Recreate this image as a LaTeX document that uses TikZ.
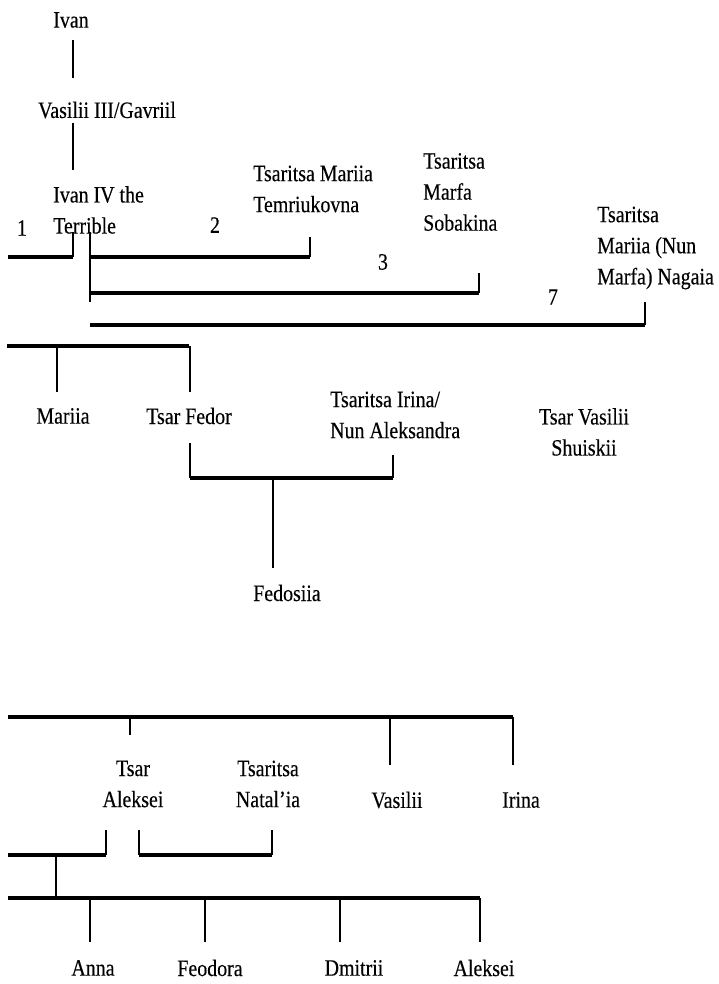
\documentclass[tikz,border=0pt]{standalone}
\usepackage{fontspec}
\setmainfont[FakeStretch=0.85, FakeBold=0.3]{Liberation Serif}
\usepackage{tikz}
\usetikzlibrary{positioning}

\tikzset{
	person/.style={font=\fontsize{20}{26.5}\selectfont, inner sep=0pt},
	bar/.style={line width=3pt},
	stem/.style={line width=1.9pt},
	tick/.style={line width=1.3pt},
}

\begin{document}
\begin{tikzpicture}[x=0.03cm, y=-0.03cm]
	\useasboundingbox (0,0) rectangle (718,984);

	\node[person] (ivan) at (71,20) {Ivan};
	\node[person] (vasilii) at (107,110) {Vasilii III/Gavriil};
	\node[person, anchor=west, align=left] (ivaniv) at (53,210) {Ivan IV the\\Terrible};
	\node[person] (n1) at (22,228) {1};
	\node[person] (n2) at (215,225) {2};
	\node[person] (n3) at (383,262) {3};
	\node[person] (n7) at (553,297) {7};
	\node[person, anchor=west, align=left] (temriukovna) at (253,189) {Tsaritsa Mariia\\Temriukovna};
	\node[person, anchor=west, align=left] (sobakina) at (423,192) {Tsaritsa\\Marfa\\Sobakina};
	\node[person, anchor=west, align=left] (nagaia) at (597,248) {Tsaritsa\\Mariia (Nun\\Marfa) Nagaia};

	\node[person] (mariia) at (63,416) {Mariia};
	\node[person] (fedor) at (189,416) {Tsar Fedor};
	\node[person, anchor=west, align=left] (irina) at (330,415) {Tsaritsa Irina/\\Nun Aleksandra};
	\node[person, align=center] (shuiskii) at (584,432) {Tsar Vasilii\\Shuiskii};
	\node[person] (fedosiia) at (287,593) {Fedosiia};

	\node[person, align=center] (aleksei) at (133,784) {Tsar\\Aleksei};
	\node[person, align=center] (natalia) at (268,784) {Tsaritsa\\Natal’ia};
	\node[person] (vasiliib) at (397,800) {Vasilii};
	\node[person] (irinab) at (521,800) {Irina};
	\node[person] (anna) at (93,968) {Anna};
	\node[person] (feodora) at (210,968) {Feodora};
	\node[person] (dmitrii) at (354,968) {Dmitrii};
	\node[person] (alekseib) at (484,968) {Aleksei};

	\coordinate (ivanbot) at (73,40);
	\coordinate (vasiliitop) at (73,78);
	\coordinate (vasiliibot) at (73,123);
	\coordinate (ivanivtop) at (73,170);
	\coordinate (w1) at (73,232);
	\coordinate (w1left) at (8,257);
	\coordinate (ivanivdown) at (90,232);
	\coordinate (w2) at (310,237);
	\coordinate (w3) at (479,273);
	\coordinate (w7) at (645,302);
	\coordinate (m1left) at (7,346);
	\coordinate (fedorbot) at (190,443);
	\coordinate (irinabot) at (393,455);
	\coordinate (fedosiiatop) at (273,568);
	\coordinate (r1left) at (8,717);
	\coordinate (r1right) at (513,717);
	\coordinate (alekseitop) at (130,735);
	\coordinate (a1) at (106,830);
	\coordinate (a1left) at (8,855);
	\coordinate (a2) at (139,830);
	\coordinate (nataliabot) at (272,830);
	\coordinate (kidsleft) at (8,898);
	\coordinate (kidsright) at (480,898);

	\draw[stem] (ivanbot) -- (vasiliitop);
	\draw[stem] (vasiliibot) -- (ivanivtop);

	\draw[bar] (w1left) -- (w1left -| w1);
	\draw[tick] (w1) -- (w1left -| w1);
	\draw[stem] (ivanivdown) -- (ivanivdown |- w7) ++(0,2);
	\draw[bar] (ivanivdown |- w1left) -- (w2 |- w1left);
	\draw[tick] (w2) -- (w2 |- w1left);
	\draw[bar] (ivanivdown |- 0,293) -- (w3 |- 0,293);
	\draw[tick] (w3) -- (w3 |- 0,293);
	\draw[bar] (ivanivdown |- 0,325) -- (w7 |- 0,325);
	\draw[stem] (w7) -- (w7 |- 0,325);

	\draw[bar] (m1left) -- (m1left -| fedor);
	\draw[stem] (m1left -| mariia.south) ++(-6,0) -- ++(0,46);
	\draw[stem] (m1left -| fedorbot) -- (fedorbot |- 0,392);

	\draw[stem] (fedorbot) -- (fedorbot |- 0,478);
	\draw[bar] (fedorbot |- 0,478) -- (irinabot |- 0,478);
	\draw[tick] (irinabot) -- (irinabot |- 0,478);
	\draw[stem] (fedosiiatop |- 0,478) -- (fedosiiatop);

	\draw[bar] (r1left) -- (r1right);
	\draw[tick] (alekseitop |- r1left) -- (alekseitop);
	\draw[stem] (390,717) -- (390,765);
	\draw[stem] (r1right) -- (r1right |- 0,765);

	\draw[tick] (a1) -- (a1 |- a1left);
	\draw[bar] (a1left) -- (a1 |- a1left);
	\draw[tick] (a2) -- (a2 |- a1left);
	\draw[bar] (a2 |- a1left) -- (nataliabot |- a1left);
	\draw[tick] (nataliabot) -- (nataliabot |- a1left);
	\draw[stem] (56,855) -- (56,898);

	\draw[bar] (kidsleft) -- (kidsright);
	\foreach \x in {90,205,340,480}
		\draw[stem] (\x,898) -- (\x,942);
\end{tikzpicture}
\end{document}
